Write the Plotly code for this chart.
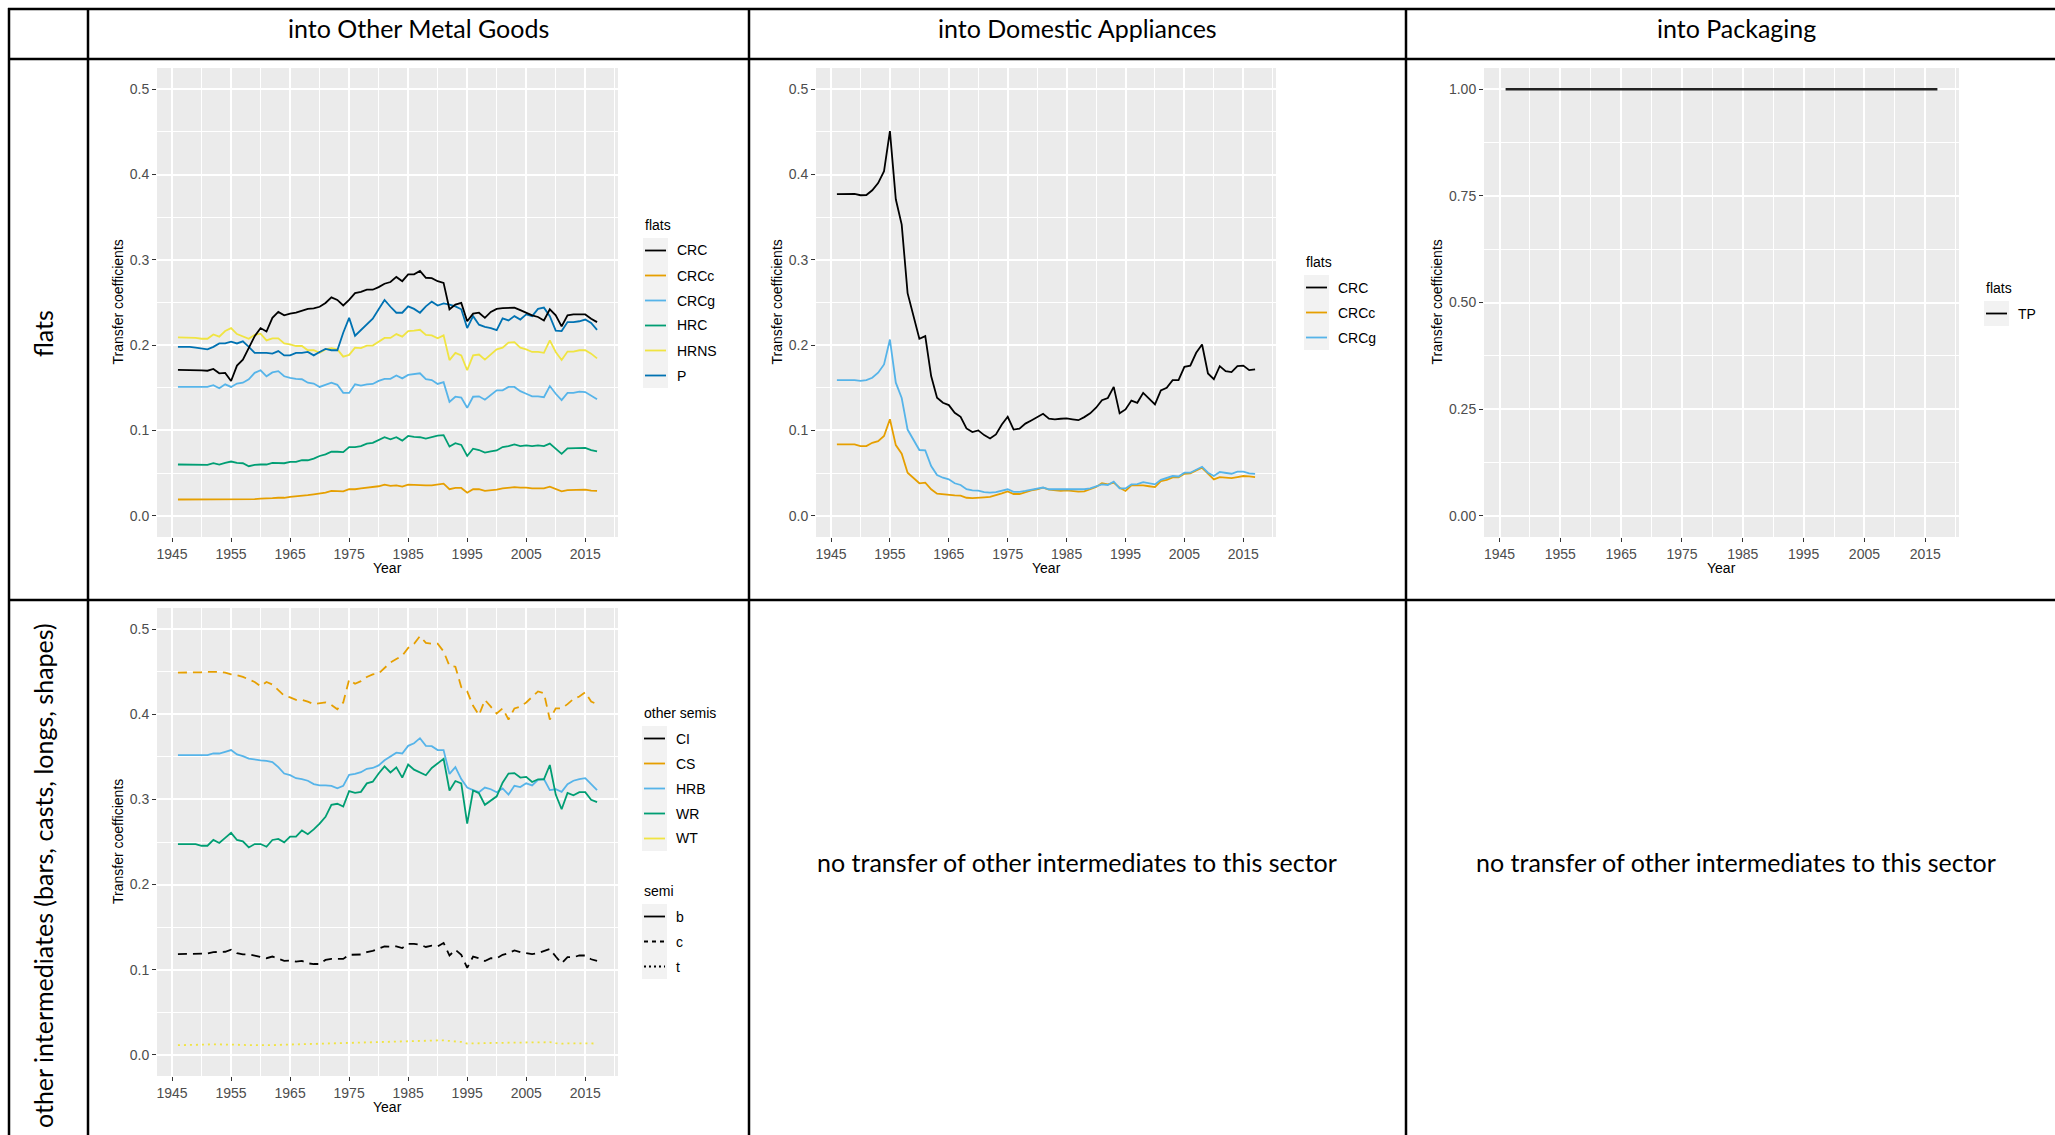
import plotly.graph_objects as go

# ---------------------------------------------------------------- canvas
W, H = 2055, 1135


def fx(x):
    return x / W


def fy(y):
    return 1 - y / H


# ---------------------------------------------------------------- data
YEARS = list(range(1946, 2018))

X_TICKS = [1945, 1955, 1965, 1975, 1985, 1995, 2005, 2015]
X_MINOR = [1950, 1960, 1970, 1980, 1990, 2000, 2010, 2020]
Y_TICKS = [0.0, 0.1, 0.2, 0.3, 0.4, 0.5]
Y_TICK_LABELS = ["0.0", "0.1", "0.2", "0.3", "0.4", "0.5"]
Y_MINOR = [0.05, 0.15, 0.25, 0.35, 0.45]
Y_TICKS_PKG = [0.0, 0.25, 0.5, 0.75, 1.0]
Y_TICK_LABELS_PKG = ["0.00", "0.25", "0.50", "0.75", "1.00"]
Y_MINOR_PKG = [0.125, 0.375, 0.625, 0.875]

# flats into Other Metal Goods
OMG_CRC = [0.171, 0.171, 0.171, 0.171, 0.1705, 0.170, 0.172, 0.167, 0.1675, 0.158,
           0.176, 0.183, 0.197, 0.2105, 0.220, 0.216, 0.232, 0.239, 0.235, 0.237,
           0.238, 0.240, 0.2425, 0.243, 0.245, 0.2495, 0.256, 0.253, 0.2465, 0.253,
           0.261, 0.2625, 0.265, 0.265, 0.268, 0.272, 0.274, 0.280, 0.275, 0.283,
           0.283, 0.287, 0.279, 0.2785, 0.275, 0.273, 0.242, 0.2475, 0.2495, 0.228,
           0.237, 0.238, 0.232, 0.239, 0.2425, 0.2435, 0.2435, 0.244, 0.241, 0.238,
           0.235, 0.233, 0.229, 0.242, 0.235, 0.222, 0.235, 0.236, 0.236, 0.236,
           0.231, 0.227]
OMG_CRCc = [0.019, 0.019, 0.019, 0.0188, 0.0188, 0.0188, 0.019, 0.0188, 0.0192, 0.0195,
            0.0195, 0.0195, 0.0188, 0.0195, 0.020, 0.020, 0.0205, 0.021, 0.021, 0.022,
            0.0225, 0.0235, 0.024, 0.025, 0.026, 0.027, 0.029, 0.029, 0.0285, 0.031,
            0.031, 0.032, 0.033, 0.0335, 0.0345, 0.0365, 0.035, 0.0355, 0.034, 0.0365,
            0.036, 0.036, 0.0355, 0.0355, 0.0365, 0.0375, 0.031, 0.0325, 0.0325, 0.027,
            0.031, 0.031, 0.029, 0.0295, 0.0305, 0.032, 0.033, 0.0335, 0.033, 0.033,
            0.032, 0.032, 0.032, 0.034, 0.031, 0.0285, 0.030, 0.030, 0.030, 0.0305,
            0.0295, 0.029]
OMG_CRCg = [0.151, 0.151, 0.151, 0.151, 0.151, 0.151, 0.153, 0.1495, 0.154, 0.151,
            0.155, 0.156, 0.160, 0.1675, 0.1705, 0.1635, 0.168, 0.1695, 0.1635, 0.1615,
            0.1605, 0.160, 0.156, 0.155, 0.151, 0.1535, 0.156, 0.1535, 0.144, 0.144,
            0.154, 0.1525, 0.154, 0.1545, 0.158, 0.1605, 0.1605, 0.1645, 0.161, 0.165,
            0.166, 0.167, 0.160, 0.159, 0.1545, 0.1565, 0.1335, 0.1395, 0.1385, 0.1265,
            0.1395, 0.140, 0.136, 0.141, 0.147, 0.147, 0.151, 0.151, 0.146, 0.143,
            0.140, 0.140, 0.139, 0.152, 0.143, 0.1355, 0.144, 0.144, 0.1455, 0.145,
            0.141, 0.1365]
OMG_HRC = [0.060, 0.060, 0.060, 0.0595, 0.0595, 0.0595, 0.0615, 0.060, 0.062, 0.0635,
           0.062, 0.0615, 0.058, 0.0595, 0.060, 0.060, 0.062, 0.062, 0.0615, 0.063,
           0.063, 0.065, 0.065, 0.067, 0.070, 0.072, 0.075, 0.075, 0.0745, 0.0805,
           0.0805, 0.0815, 0.0845, 0.0855, 0.0885, 0.092, 0.0895, 0.092, 0.088, 0.0935,
           0.0925, 0.092, 0.0905, 0.092, 0.094, 0.0945, 0.081, 0.085, 0.083, 0.070,
           0.0785, 0.077, 0.074, 0.0755, 0.0765, 0.0805, 0.0815, 0.0835, 0.0815, 0.0825,
           0.0815, 0.0825, 0.0815, 0.0845, 0.078, 0.0725, 0.079, 0.079, 0.079, 0.0795,
           0.077, 0.0755]
OMG_HRNS = [0.209, 0.209, 0.209, 0.2085, 0.2075, 0.2075, 0.2125, 0.210, 0.2165, 0.220,
            0.213, 0.2105, 0.2075, 0.212, 0.2135, 0.2055, 0.208, 0.208, 0.202, 0.201,
            0.199, 0.199, 0.194, 0.194, 0.191, 0.195, 0.1965, 0.195, 0.1865, 0.1885,
            0.197, 0.1965, 0.1995, 0.1995, 0.2045, 0.2085, 0.2085, 0.213, 0.210, 0.2165,
            0.217, 0.218, 0.212, 0.2115, 0.208, 0.2115, 0.1825, 0.191, 0.188, 0.1705,
            0.188, 0.189, 0.183, 0.189, 0.195, 0.197, 0.203, 0.2035, 0.197, 0.195,
            0.192, 0.192, 0.191, 0.2055, 0.192, 0.1825, 0.1925, 0.1925, 0.194, 0.194,
            0.190, 0.1845]
OMG_P = [0.198, 0.198, 0.198, 0.197, 0.196, 0.195, 0.198, 0.202, 0.202, 0.204,
         0.202, 0.2045, 0.198, 0.191, 0.191, 0.191, 0.190, 0.193, 0.188, 0.188,
         0.191, 0.191, 0.192, 0.188, 0.192, 0.1955, 0.194, 0.194, 0.2145, 0.232,
         0.211, 0.2175, 0.224, 0.231, 0.242, 0.253, 0.245, 0.238, 0.238, 0.2455,
         0.2425, 0.238, 0.2455, 0.251, 0.2465, 0.249, 0.2475, 0.2455, 0.242, 0.220,
         0.234, 0.224, 0.2215, 0.220, 0.2175, 0.2315, 0.229, 0.234, 0.230, 0.236,
         0.234, 0.2425, 0.244, 0.234, 0.217, 0.2165, 0.227, 0.227, 0.228, 0.230,
         0.226, 0.218]

# flats into Domestic Appliances
DA_CRC = [0.377, 0.377, 0.3775, 0.3775, 0.3758, 0.376, 0.3816, 0.390, 0.404, 0.451,
          0.371, 0.3414, 0.261, 0.234, 0.2074, 0.2105, 0.1637, 0.1383, 0.1324, 0.1297,
          0.1207, 0.116, 0.1023, 0.098, 0.100, 0.0945, 0.0906, 0.0953, 0.107, 0.116,
          0.101, 0.102, 0.108, 0.1117, 0.116, 0.1195, 0.1137, 0.113, 0.1137, 0.114,
          0.113, 0.112, 0.1156, 0.120, 0.1266, 0.1355, 0.138, 0.151, 0.120, 0.1246,
          0.135, 0.1324, 0.144, 0.137, 0.1305, 0.147, 0.150, 0.159, 0.159, 0.1746,
          0.176, 0.191, 0.2008, 0.1668, 0.160, 0.1754, 0.1695, 0.1684, 0.1754, 0.176,
          0.1707, 0.1715]
DA_CRCc = [0.0836, 0.0836, 0.0836, 0.0836, 0.0816, 0.0816, 0.0855, 0.0875, 0.0934, 0.113,
           0.0828, 0.0727, 0.0504, 0.0445, 0.038, 0.0387, 0.031, 0.0258, 0.025, 0.025,
           0.0238, 0.0235, 0.021, 0.0207, 0.0215, 0.0215, 0.022, 0.0238, 0.0262, 0.0285,
           0.0254, 0.0254, 0.028, 0.0297, 0.031, 0.0328, 0.0305, 0.0297, 0.029, 0.0297,
           0.029, 0.0282, 0.0285, 0.031, 0.0336, 0.038, 0.0367, 0.0387, 0.0328, 0.029,
           0.0355, 0.0355, 0.0355, 0.0345, 0.0336, 0.0406, 0.042, 0.045, 0.045, 0.0492,
           0.0496, 0.0531, 0.0562, 0.0492, 0.0426, 0.0453, 0.045, 0.0441, 0.0453, 0.0465,
           0.046, 0.0453]
DA_CRCg = [0.159, 0.159, 0.159, 0.159, 0.158, 0.159, 0.1617, 0.1676, 0.1773, 0.2066,
           0.156, 0.138, 0.101, 0.0895, 0.077, 0.0766, 0.0582, 0.0477, 0.0445, 0.0426,
           0.038, 0.036, 0.031, 0.0297, 0.0293, 0.0277, 0.027, 0.0277, 0.029, 0.031,
           0.028, 0.028, 0.029, 0.0305, 0.032, 0.033, 0.031, 0.031, 0.031, 0.0315,
           0.031, 0.031, 0.031, 0.032, 0.034, 0.0367, 0.036, 0.040, 0.032, 0.032,
           0.0367, 0.037, 0.0394, 0.038, 0.0367, 0.042, 0.044, 0.0465, 0.046, 0.0504,
           0.0504, 0.0543, 0.0574, 0.0504, 0.0465, 0.0512, 0.050, 0.0492, 0.0516, 0.0516,
           0.0496, 0.049]

# flats into Packaging
PKG_TP = [1.00, 1.00, 1.00, 1.00, 1.00, 1.00, 1.00, 1.00, 1.00,
          1.00, 1.00, 1.00, 1.00, 1.00, 1.00, 1.00, 1.00, 1.00,
          1.00, 1.00, 1.00, 1.00, 1.00, 1.00, 1.00, 1.00, 1.00,
          1.00, 1.00, 1.00, 1.00, 1.00, 1.00, 1.00, 1.00, 1.00,
          1.00, 1.00, 1.00, 1.00, 1.00, 1.00, 1.00, 1.00, 1.00,
          1.00, 1.00, 1.00, 1.00, 1.00, 1.00, 1.00, 1.00, 1.00,
          1.00, 1.00, 1.00, 1.00, 1.00, 1.00, 1.00, 1.00, 1.00,
          1.00, 1.00, 1.00, 1.00, 1.00, 1.00, 1.00, 1.00, 1.00]

# other intermediates into Other Metal Goods
OS_CI = [0.1182, 0.1182, 0.1182, 0.1182, 0.1182, 0.119, 0.1206, 0.121, 0.121, 0.1234,
         0.1194, 0.118, 0.118, 0.1166, 0.1146, 0.1134, 0.1154, 0.1126, 0.1102, 0.1106,
         0.1094, 0.1102, 0.1074, 0.1066, 0.1066, 0.1114, 0.1126, 0.1126, 0.1126, 0.1174,
         0.1174, 0.1178, 0.1206, 0.122, 0.1246, 0.1274, 0.127, 0.1274, 0.1254, 0.1302,
         0.1302, 0.1294, 0.1266, 0.1282, 0.1274, 0.1314, 0.1166, 0.1234, 0.1174, 0.1022,
         0.1154, 0.1134, 0.1102, 0.1134, 0.1134, 0.1174, 0.1194, 0.1226, 0.1206, 0.1194,
         0.1182, 0.1194, 0.1214, 0.1242, 0.1154, 0.1074, 0.1146, 0.1146, 0.1166, 0.1166,
         0.1122, 0.1102]
OS_CS = [0.449, 0.449, 0.449, 0.4495, 0.4495, 0.450, 0.4503, 0.450, 0.449, 0.447,
         0.446, 0.444, 0.441, 0.438, 0.433, 0.438, 0.435, 0.429, 0.422, 0.420,
         0.417, 0.417, 0.415, 0.412, 0.413, 0.414, 0.411, 0.406, 0.414, 0.441,
         0.436, 0.439, 0.444, 0.447, 0.448, 0.454, 0.461, 0.465, 0.469, 0.478,
         0.483, 0.492, 0.484, 0.483, 0.483, 0.474, 0.457, 0.456, 0.432, 0.427,
         0.410, 0.399, 0.417, 0.409, 0.401, 0.407, 0.394, 0.407, 0.409, 0.414,
         0.420, 0.427, 0.425, 0.394, 0.407, 0.407, 0.412, 0.418, 0.421, 0.426,
         0.415, 0.412]
OS_HRB = [0.352, 0.352, 0.352, 0.352, 0.352, 0.352, 0.354, 0.354, 0.356, 0.358,
          0.353, 0.351, 0.348, 0.3466, 0.346, 0.3454, 0.344, 0.338, 0.3305, 0.3285,
          0.325, 0.324, 0.322, 0.318, 0.3165, 0.3165, 0.316, 0.313, 0.316, 0.329,
          0.330, 0.332, 0.336, 0.337, 0.340, 0.346, 0.350, 0.355, 0.354, 0.363,
          0.366, 0.372, 0.363, 0.3626, 0.358, 0.358, 0.330, 0.338, 0.324, 0.314,
          0.311, 0.3085, 0.314, 0.312, 0.3085, 0.313, 0.3057, 0.316, 0.3145, 0.319,
          0.3165, 0.323, 0.324, 0.311, 0.312, 0.309, 0.318, 0.322, 0.324, 0.325,
          0.318, 0.311]
OS_WR = [0.2476, 0.2476, 0.2476, 0.2476, 0.2456, 0.2456, 0.2524, 0.2488, 0.2548, 0.2608,
         0.2524, 0.2508, 0.2436, 0.2476, 0.2476, 0.2444, 0.2524, 0.2536, 0.2496, 0.2564,
         0.2564, 0.2636, 0.2592, 0.2648, 0.2716, 0.2796, 0.2937, 0.2949, 0.2917, 0.3097,
         0.3077, 0.3089, 0.3189, 0.3209, 0.3305, 0.3389, 0.3317, 0.3377, 0.3257, 0.341,
         0.335, 0.3317, 0.3285, 0.337, 0.3425, 0.3478, 0.3105, 0.3217, 0.319, 0.2716,
         0.3105, 0.3073, 0.2937, 0.2985, 0.3037, 0.3197, 0.3305, 0.331, 0.3257, 0.3265,
         0.3205, 0.3237, 0.3237, 0.3405, 0.3057, 0.2885, 0.3077, 0.3049, 0.3085, 0.3085,
         0.2997, 0.2969]
OS_WT = [0.0112, 0.0112, 0.0114, 0.0116, 0.0118, 0.012, 0.0122, 0.0122, 0.0124, 0.0124,
         0.012, 0.0116, 0.0112, 0.011, 0.011, 0.011, 0.0112, 0.0116, 0.0118, 0.012,
         0.012, 0.0122, 0.0124, 0.0128, 0.0132, 0.0136, 0.014, 0.014, 0.014, 0.0144,
         0.0146, 0.0146, 0.0148, 0.015, 0.0152, 0.0158, 0.0158, 0.016, 0.016, 0.0164,
         0.0166, 0.0166, 0.0164, 0.0166, 0.0168, 0.0168, 0.016, 0.0156, 0.015, 0.0132,
         0.0136, 0.0138, 0.0136, 0.0138, 0.014, 0.0142, 0.0144, 0.0146, 0.0146, 0.0148,
         0.0146, 0.0146, 0.0146, 0.0148, 0.0136, 0.013, 0.0134, 0.0134, 0.0136, 0.0136,
         0.0134, 0.0132]

SECTORS = ["into Other Metal Goods", "into Domestic Appliances", "into Packaging"]
ROWS = ["flats", "other intermediates (bars, casts, longs, shapes)"]
EMPTY_NOTE = "no transfer of other intermediates to this sector"

# ---------------------------------------------------------------- styles
BLACK = "#000000"
ORANGE = "#E69F00"
SKY = "#56B4E9"
GREEN = "#009E73"
YELLOW = "#F0E442"
BLUE = "#0072B2"

GG_FONT = "Liberation Sans, Arial, sans-serif"
DOC_FONT = "Lato, Open Sans, sans-serif"
LW = 1.8
DASH = "9px,6px"
DOT = "2px,4px"

fig = go.Figure()

# panel geometry in pixels: (x0, x1, y_top, y_bottom)
PANELS = {
    "1": (157, 618, 68, 537),
    "2": (816, 1276, 68, 537),
    "3": (1484, 1959, 68, 537),
    "4": (157, 618, 608, 1076),
}


def add_line(panel, y, color, dash="solid", width=LW):
    fig.add_trace(go.Scatter(
        x=YEARS, y=y, mode="lines",
        line=dict(color=color, width=width, dash=dash),
        xaxis="x" if panel == "1" else "x" + panel,
        yaxis="y" if panel == "1" else "y" + panel,
        showlegend=False, hoverinfo="skip",
    ))


# Other Metal Goods - flats
add_line("1", OMG_CRCc, ORANGE)
add_line("1", OMG_HRC, GREEN)
add_line("1", OMG_CRCg, SKY)
add_line("1", OMG_HRNS, YELLOW)
add_line("1", OMG_P, BLUE)
add_line("1", OMG_CRC, BLACK)

# Domestic Appliances - flats
add_line("2", DA_CRCc, ORANGE)
add_line("2", DA_CRCg, SKY)
add_line("2", DA_CRC, BLACK)

# Packaging - flats
add_line("3", PKG_TP, "#222222", width=2.4)

# Other Metal Goods - other intermediates
add_line("4", OS_WT, YELLOW, DOT)
add_line("4", OS_CI, BLACK, DASH)
add_line("4", OS_CS, ORANGE, DASH)
add_line("4", OS_HRB, SKY)
add_line("4", OS_WR, GREEN)


def axis_pair(key, yticks, ylabels, yminor, yrange):
    x0, x1, yt, yb = PANELS[key]
    xname = "xaxis" if key == "1" else "xaxis" + key
    yname = "yaxis" if key == "1" else "yaxis" + key
    xa = "x" if key == "1" else "x" + key
    ya = "y" if key == "1" else "y" + key
    common = dict(
        showgrid=True, gridcolor="white", gridwidth=1.6,
        zeroline=False, showline=False,
        ticks="outside", ticklen=4, tickwidth=1, tickcolor="#333333",
        tickfont=dict(family=GG_FONT, size=14, color="#4D4D4D"),
    )
    fig.update_layout(**{
        xname: dict(
            domain=[fx(x0), fx(x1)], anchor=ya, range=[1942.45, 2020.55],
            tickmode="array", tickvals=X_TICKS, ticktext=[str(v) for v in X_TICKS],
            minor=dict(tickvals=X_MINOR, showgrid=True, gridcolor="white",
                       gridwidth=0.8, ticks=""),
            **common),
        yname: dict(
            domain=[fy(yb), fy(yt)], anchor=xa, range=yrange,
            tickmode="array", tickvals=yticks, ticktext=ylabels,
            minor=dict(tickvals=yminor, showgrid=True, gridcolor="white",
                       gridwidth=0.8, ticks=""),
            **common),
    })


axis_pair("1", Y_TICKS, Y_TICK_LABELS, Y_MINOR, [-0.025, 0.525])
axis_pair("2", Y_TICKS, Y_TICK_LABELS, Y_MINOR, [-0.025, 0.525])
axis_pair("3", Y_TICKS_PKG, Y_TICK_LABELS_PKG, Y_MINOR_PKG, [-0.05, 1.05])
axis_pair("4", Y_TICKS, Y_TICK_LABELS, Y_MINOR, [-0.025, 0.525])

annotations = []
shapes = []


def text(x, y, s, size=14, color="black", anchor="left", angle=0, family=GG_FONT):
    annotations.append(dict(
        x=fx(x), y=fy(y), xref="paper", yref="paper", text=s, showarrow=False,
        xanchor=anchor, yanchor="middle", textangle=angle,
        font=dict(family=family, size=size, color=color),
    ))


# axis titles
for key, ytitle_x in (("1", 118), ("2", 777), ("3", 1437), ("4", 118)):
    x0, x1, yt, yb = PANELS[key]
    text((x0 + x1) / 2, yb + 31, "Year", anchor="center")
    text(ytitle_x, (yt + yb) / 2, "Transfer coefficients", anchor="center", angle=-90)


def legend(x, title_y, title, entries):
    """ggplot-style legend: title, grey key boxes with line glyphs, labels."""
    text(x, title_y, title)
    top = title_y + 13
    shapes.append(dict(type="rect", xref="paper", yref="paper",
                       x0=fx(x), x1=fx(x + 25), y0=fy(top + 25 * len(entries)), y1=fy(top),
                       fillcolor="#F2F2F2", line=dict(width=0), layer="below"))
    for i, (label, color, dash) in enumerate(entries):
        cy = top + 25 * i + 12.5
        shapes.append(dict(type="line", xref="paper", yref="paper",
                           x0=fx(x + 2), x1=fx(x + 23), y0=fy(cy), y1=fy(cy),
                           line=dict(color=color, width=LW, dash=dash)))
        text(x + 32, cy, label)


legend(643, 225, "flats", [("CRC", BLACK, "solid"), ("CRCc", ORANGE, "solid"),
                           ("CRCg", SKY, "solid"), ("HRC", GREEN, "solid"),
                           ("HRNS", YELLOW, "solid"), ("P", BLUE, "solid")])
legend(1304, 262, "flats", [("CRC", BLACK, "solid"), ("CRCc", ORANGE, "solid"),
                            ("CRCg", SKY, "solid")])
legend(1984, 288, "flats", [("TP", BLACK, "solid")])
legend(642, 713, "other semis", [("CI", BLACK, "solid"), ("CS", ORANGE, "solid"),
                                 ("HRB", SKY, "solid"), ("WR", GREEN, "solid"),
                                 ("WT", YELLOW, "solid")])
legend(642, 891, "semi", [("b", BLACK, "solid"), ("c", BLACK, "4px,4px"),
                          ("t", BLACK, "2px,3px")])

# table frame
TABLE_LINES_H = [9, 59, 600]
TABLE_LINES_V = [9, 88, 749, 1406]
for yl in TABLE_LINES_H:
    shapes.append(dict(type="line", xref="paper", yref="paper",
                       x0=fx(8), x1=1, y0=fy(yl), y1=fy(yl),
                       line=dict(color="black", width=2.5)))
for xl in TABLE_LINES_V:
    shapes.append(dict(type="line", xref="paper", yref="paper",
                       x0=fx(xl), x1=fx(xl), y0=fy(8), y1=0,
                       line=dict(color="black", width=2.5)))

# table texts
for s, cx in zip(SECTORS, (418, 1077, 1736)):
    text(cx, 28, s, size=25, anchor="center", family=DOC_FONT)
text(43, 334, ROWS[0], size=25, anchor="center", angle=-90, family=DOC_FONT)
text(43, 876, ROWS[1], size=25, anchor="center", angle=-90, family=DOC_FONT)
text(1077, 862, EMPTY_NOTE, size=25, anchor="center", family=DOC_FONT)
text(1736, 862, EMPTY_NOTE, size=25, anchor="center", family=DOC_FONT)

fig.update_layout(
    width=W, height=H, margin=dict(l=0, r=0, t=0, b=0),
    paper_bgcolor="white", plot_bgcolor="#EBEBEB",
    showlegend=False, annotations=annotations, shapes=shapes,
)

fig.write_html("out.html")
